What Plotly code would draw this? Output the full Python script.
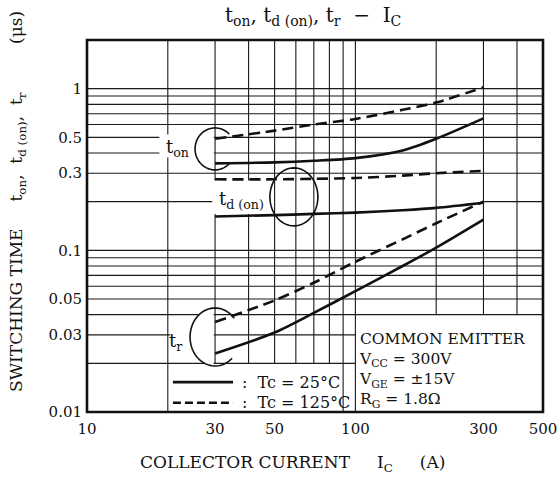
import math
import plotly.graph_objects as go

# ---------------- data ----------------
ic = [30, 50, 70, 100, 150, 200, 300]
ton_25 = [0.345, 0.350, 0.358, 0.372, 0.415, 0.49, 0.655]
ton_125 = [0.49, 0.55, 0.60, 0.65, 0.74, 0.82, 1.02]
td_25 = [0.162, 0.165, 0.168, 0.171, 0.177, 0.183, 0.197]
td_125 = [0.275, 0.275, 0.277, 0.28, 0.29, 0.30, 0.31]
tr_25 = [0.023, 0.031, 0.041, 0.056, 0.080, 0.104, 0.155]
tr_125 = [0.036, 0.049, 0.063, 0.085, 0.117, 0.147, 0.20]

x_ticks = [10, 30, 50, 100, 300, 500]
x_tick_text = ["10", "30", "50", "100", "300", "500"]
y_ticks = [0.01, 0.03, 0.05, 0.1, 0.3, 0.5, 1]
y_tick_text = ["0.01", "0.03", "0.05", "0.1", "0.3", "0.5", "1"]

# ---------------- geometry helpers ----------------
XMIN, XMAX = 10, 500
YMIN, YMAX = 0.01, 2
W, H = 557, 484
ML, MR, MT, MB = 87, 14, 40, 72
PW = W - ML - MR
PH = H - MT - MB
PXX = PW / (math.log10(XMAX) - math.log10(XMIN))   # px per decade, x
PXY = PH / (math.log10(YMAX) - math.log10(YMIN))   # px per decade, y

FONT = "DejaVu Serif"
BLACK = "#111111"
GRID = "#1a1a1a"

shapes = []


def hline(y, x0=XMIN, x1=XMAX, w=1.1):
    shapes.append(dict(type="line", xref="x", yref="y", x0=x0, x1=x1, y0=y, y1=y,
                       line=dict(color=GRID, width=w), layer="below"))


def vline(x, y0=YMIN, y1=YMAX, w=1.1):
    shapes.append(dict(type="line", xref="x", yref="y", x0=x, x1=x, y0=y0, y1=y1,
                       line=dict(color=GRID, width=w), layer="below"))


def white_rect(x0, x1, y0, y1):
    shapes.append(dict(type="rect", xref="x", yref="y", x0=x0, x1=x1, y0=y0, y1=y1,
                       fillcolor="white", line=dict(width=0), layer="below"))


def ell_pts(cx, cy, rx, ry, a0, a1, n=60):
    pts = []
    for i in range(n + 1):
        t = math.radians(a0 + (a1 - a0) * i / n)
        pts.append((cx * 10 ** (rx * math.cos(t) / PXX), cy * 10 ** (-ry * math.sin(t) / PXY)))
    return pts


def path_of(pts, close=False):
    s = "M " + " L ".join(f"{x:.6g},{y:.6g}" for x, y in pts)
    return s + (" Z" if close else "")


def arc(cx, cy, rx, ry, a0, a1):
    shapes.append(dict(type="path", xref="x", yref="y", path=path_of(ell_pts(cx, cy, rx, ry, a0, a1)),
                       line=dict(color=BLACK, width=1.6), layer="above"))


def blank_left_half(cx, cy, rx, ry):
    lim = cx * 10 ** (-1.5 / PXX)
    pts = [(min(x, lim), y) for x, y in ell_pts(cx, cy, rx, ry, 90, 270)]
    shapes.append(dict(type="path", xref="x", yref="y", path=path_of(pts, True),
                       fillcolor="white", line=dict(width=0), layer="below"))


# ---------------- grid (partially interrupted like the datasheet) ----------------
minor_x = [20, 30, 40, 50, 60, 70, 80, 90, 100, 200, 300, 400]
for xv in minor_x:
    if 30 <= xv <= 80:
        if xv in (30, 40):
            vline(xv, 0.02, 0.168)
            vline(xv, 0.27, YMAX)
        else:
            vline(xv, 0.02, YMAX)
    elif xv >= 200:
        vline(xv, 0.04, YMAX)
    else:
        vline(xv, YMIN, YMAX)

minor_y = [0.02, 0.03, 0.04, 0.05, 0.06, 0.07, 0.08, 0.09,
           0.1, 0.2, 0.3, 0.4, 0.5, 0.6, 0.7, 0.8, 0.9, 1.0]
for yv in minor_y:
    if yv in (0.02, 0.03):
        hline(yv, XMIN, 100)
    elif abs(yv - 0.2) < 1e-9:
        hline(yv, XMIN, 29.3)
        hline(yv, 300, XMAX)
    else:
        hline(yv, XMIN, XMAX)

# blank areas around labels and circles
white_rect(18.6, 29.6, 0.375, 0.52)
white_rect(20.4, 29.6, 0.0248, 0.0335)

C_ON = (30, 0.424, 20, 21)
C_TD = (59, 0.214, 24, 29)
C_TR = (30, 0.0291, 25, 29)
blank_left_half(*C_ON)
blank_left_half(*C_TR)

arc(*C_ON, 45, 315)
arc(*C_TD, 0, 360)
arc(*C_TR, 47, 320)

# legend samples
shapes.append(dict(type="line", xref="x", yref="y", x0=20.9, x1=35, y0=0.0153, y1=0.0153,
                   line=dict(color=BLACK, width=2.6), layer="above"))
shapes.append(dict(type="line", xref="x", yref="y", x0=20.9, x1=35, y0=0.0114, y1=0.0114,
                   line=dict(color=BLACK, width=2.6, dash="8px,4px"), layer="above"))

# frame
shapes.append(dict(type="rect", xref="paper", yref="paper", x0=0, x1=1, y0=0, y1=1,
                   line=dict(color=BLACK, width=2.6), layer="above"))

# ---------------- traces ----------------
fig = go.Figure()
series = [
    (ton_25, "solid"), (ton_125, "11px,6px"),
    (td_25, "solid"), (td_125, "11px,6px"),
    (tr_25, "solid"), (tr_125, "11px,6px"),
]
for ys, dash in series:
    fig.add_trace(go.Scatter(x=ic, y=ys, mode="lines",
                             line=dict(color=BLACK, width=2.6, dash=dash, shape="spline", smoothing=0.8),
                             hoverinfo="skip", showlegend=False))

# ---------------- annotations ----------------
ann = []


def text(x, y, s, size=15, xanchor="center", yanchor="middle", xref="x", yref="y", angle=0, align="center"):
    if xref == "x":
        x = math.log10(x)
    if yref == "y":
        y = math.log10(y)
    ann.append(dict(x=x, y=y, xref=xref, yref=yref, text=s, showarrow=False,
                    xanchor=xanchor, yanchor=yanchor, textangle=angle, align=align,
                    font=dict(family=FONT, size=size, color=BLACK)))


text(21.8, 0.43, "t<sub>on</sub>", 18)
text(37.5, 0.205, "t<sub>d (on)</sub>", 18)
text(21.5, 0.0271, "t<sub>r</sub>", 18)

text(37.2, 0.0153, ":  Tc = 25°C", 16, xanchor="left")
text(37.2, 0.0114, ":  Tc = 125°C", 16, xanchor="left")

text(101.5, 0.0329,
     "COMMON EMITTER<br>V<sub>CC</sub> = 300V<br>V<sub>GE</sub> = ±15V<br>R<sub>G</sub> = 1.8Ω",
     15.5, xanchor="left", yanchor="top", align="left")

text((313 - ML) / PW, (MT + PH - 16) / PH,
     "t<sub>on</sub>, t<sub>d (on)</sub>, t<sub>r</sub>  −  I<sub>C</sub>", 20,
     xref="paper", yref="paper")
text((292 - ML) / PW, (MT + PH - 463) / PH,
     "COLLECTOR CURRENT     I<sub>C</sub>     (A)", 17, xref="paper", yref="paper")
text((18 - ML) / PW, (MT + PH - 202) / PH,
     "SWITCHING TIME     t<sub>on</sub>,  t<sub>d (on)</sub>,  t<sub>r</sub>         (μs)", 17,
     xref="paper", yref="paper", angle=-90)

fig.update_layout(
    width=W, height=H,
    margin=dict(l=ML, r=MR, t=MT, b=MB, pad=0, autoexpand=False),
    paper_bgcolor="white", plot_bgcolor="white",
    shapes=shapes, annotations=ann,
    showlegend=False,
    xaxis=dict(type="log", range=[math.log10(XMIN), math.log10(XMAX)],
               showgrid=False, zeroline=False, showline=False, ticks="",
               automargin=False, ticklabeloverflow="allow",
               tickvals=x_ticks, ticktext=x_tick_text, ticklabelstandoff=6,
               tickfont=dict(family=FONT, size=15, color=BLACK), fixedrange=True),
    yaxis=dict(type="log", range=[math.log10(YMIN), math.log10(YMAX)],
               showgrid=False, zeroline=False, showline=False, ticks="",
               automargin=False, ticklabeloverflow="allow",
               tickvals=y_ticks, ticktext=y_tick_text, ticklabelstandoff=4,
               tickfont=dict(family=FONT, size=15, color=BLACK), fixedrange=True),
)

fig.write_html("out.html")
